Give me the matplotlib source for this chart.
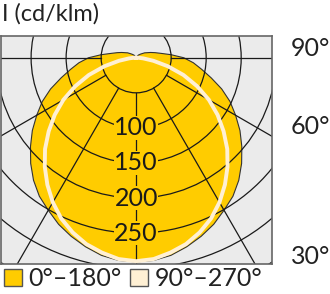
import numpy as np
import matplotlib
matplotlib.use('Agg')
import matplotlib.pyplot as plt
from matplotlib.patches import Circle, Patch

plt.rcParams['font.family'] = ['Lato', 'DejaVu Sans']

# luminous intensity (cd/klm) by angle from nadir, degrees
gamma_c0 = [0, 5, 10, 15, 20, 25, 30, 35, 40, 45, 50, 55, 60, 65, 70, 75, 80, 85,
            90, 95, 100, 105, 110, 115, 120, 130, 140, 150, 165, 180]
i_c0 = [291, 290, 286, 279, 271, 262, 251, 241, 228, 213, 197, 181, 164, 148, 130,
        111, 95, 82, 68, 50, 36, 28, 22, 17, 14, 8, 5, 2, 1, 0]
gamma_c90 = [0, 5, 10, 15, 20, 25, 30, 35, 40, 45, 50, 55, 60, 65, 70, 75, 80, 85,
             90, 100, 180]
i_c90 = [290, 288, 282, 275, 265, 253, 238, 221, 203, 184, 163, 142, 120, 96, 72,
         47, 25, 10, 3, 1, 0]
rings = [50, 100, 150, 200, 250, 300, 350]
ring_labels = [100, 150, 200, 250]
spokes = [-90, -60, -30, 0, 30, 60, 90]
legend_labels = ['0°–180°', '90°–270°']
yellow = '#FFCC00'
cream = '#FFF0D4'


def to_xy(gamma, vals):
    g = np.radians(np.concatenate([-np.array(gamma[::-1]), np.array(gamma[1:])]))
    r = np.concatenate([np.array(vals[::-1]), np.array(vals[1:])])
    return r * np.sin(g), -r * np.cos(g)


fig = plt.figure(figsize=(3.3, 2.94), dpi=100)
ax = fig.add_axes([1 / 330, 30 / 294, 271 / 330, 228 / 294])
ax.set_facecolor('#EBEBEB')
ax.set_xlim(-193, 194)
ax.set_ylim(-294, 31)

x0, y0 = to_xy(gamma_c0, i_c0)
ax.fill(x0, y0, color=yellow, ec='#333333', lw=0.8, zorder=1)

for r in rings:
    ax.add_patch(Circle((0, 0), r, fill=False, ec='#1a1a1a', lw=0.9, zorder=2))
for a in spokes:
    t = np.radians(a)
    ax.plot([50 * np.sin(t), 500 * np.sin(t)], [-50 * np.cos(t), -500 * np.cos(t)],
            color='#1a1a1a', lw=0.9, zorder=2)

for r in ring_labels:
    ax.text(0, -r, str(r), ha='center', va='center', fontsize=18, color='#1a1a1a',
            bbox=dict(fc=yellow, ec='none', pad=0.3), zorder=3)

x90, y90 = to_xy(gamma_c90, i_c90)
ax.plot(x90, y90, color=cream, lw=2.8, zorder=4, solid_joinstyle='round')

ax.set_xticks([])
ax.set_yticks([])
for s in ax.spines.values():
    s.set_color('#666666')
    s.set_linewidth(1.2)

fig.text(2 / 330, 1 - 14 / 294, 'I (cd/klm)', fontsize=17, va='center', color='#222222')
for lab, yp in [('90°', 49), ('60°', 127), ('30°', 257)]:
    fig.text(291 / 330, 1 - yp / 294, lab, fontsize=18, va='center', color='#222222')

handles = [Patch(fc=yellow, ec='#555555', lw=1.0), Patch(fc=cream, ec='#555555', lw=1.0)]
fig.legend(handles, legend_labels, loc='lower left', bbox_to_anchor=(0, 0), ncol=2,
           frameon=False, fontsize=18, handlelength=0.72, handleheight=0.65,
           handletextpad=0.25, columnspacing=0.35, borderpad=0.05, borderaxespad=0.1,
           labelcolor='#222222')

fig.savefig('out.png', dpi=100)
